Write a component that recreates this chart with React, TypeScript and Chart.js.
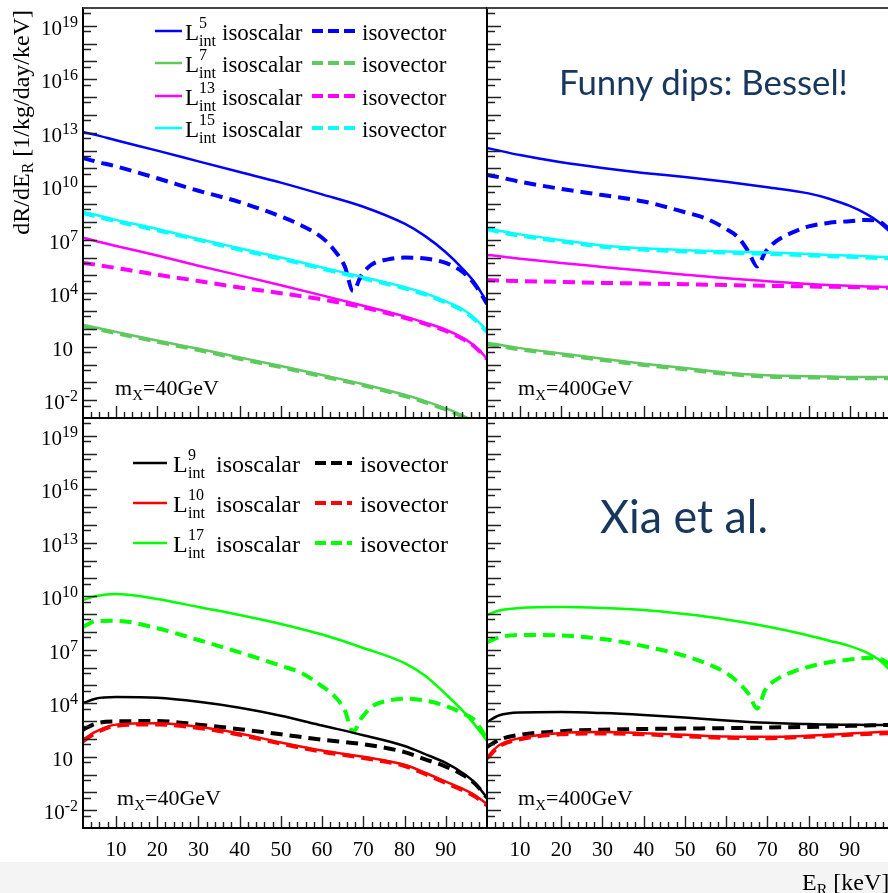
import React, { useEffect, useRef } from 'react';
import { Chart, registerables } from 'chart.js';

Chart.register(...registerables);

// ---------- energy grids (keV) ----------
const E = [2, 5, 10, 20, 30, 40, 50, 60, 70, 80, 85, 90, 94, 97, 100];
const E_DIP = [2, 5, 10, 20, 30, 40, 50, 55, 60, 63, 65.5, 67.5, 69.5, 72, 76, 80, 85, 90, 94, 97, 100];

// ---------- upper-left: m_X = 40 GeV ----------
const UL_L5_SCALAR = [1.1e13, 7.6e12, 3.8e12, 1.0e12, 2.5e11, 6.3e10, 1.6e10, 3.5e9, 7.1e8, 7.9e7, 1.6e7, 2.0e6, 2.5e5, 4.0e4, 3.2e3];
const UL_L5_VECTOR = [3.9e11, 2.5e11, 1.3e11, 2.8e10, 5.6e9, 1.3e9, 2.0e8, 6.3e7, 1.3e7, 2.5e6, 3.2e5, 1.3e4, 1.0e5, 4.0e5, 7.9e5, 1.0e6, 8.9e5, 5.0e5, 1.6e5, 3.2e4, 2.5e3];
const UL_L7_SCALAR = [166, 120, 68, 22, 7.6, 2.5, 0.83, 0.26, 0.079, 0.02, 8.9e-3, 3.5e-3, 1.4e-3, 5.0e-4, 3.2e-5];
const UL_L7_VECTOR = [141, 102, 58, 19, 6.5, 2.1, 0.71, 0.22, 0.068, 0.017, 7.6e-3, 3.0e-3, 1.2e-3, 4.3e-4, 2.7e-5];
const UL_L13_SCALAR = [1.3e7, 8.5e6, 4.5e6, 1.3e6, 3.5e5, 1.0e5, 2.8e4, 7.6e3, 2.0e3, 5.0e2, 2.2e2, 89, 32, 11, 2.2];
const UL_L13_VECTOR = [5.0e5, 4.0e5, 2.6e5, 1.1e5, 4.8e4, 2.1e4, 1.0e4, 4.5e3, 1.6e3, 4.2e2, 1.9e2, 76, 28, 10, 2.0];
const UL_L15_SCALAR = [3.6e8, 2.5e8, 1.3e8, 4.0e7, 1.1e7, 3.3e6, 1.0e6, 2.8e5, 7.9e4, 2.2e4, 1.0e4, 3.5e3, 1.3e3, 4.0e2, 79];
const UL_L15_VECTOR = [3.1e8, 2.1e8, 1.1e8, 3.4e7, 9.8e6, 2.8e6, 8.5e5, 2.4e5, 6.8e4, 1.9e4, 8.5e3, 3.0e3, 1.1e3, 3.4e2, 68];

// ---------- upper-right: m_X = 400 GeV ----------
const UR_L5_SCALAR = [1.4e12, 1.0e12, 5.6e11, 2.2e11, 1.05e11, 5.6e10, 3.3e10, 1.8e10, 8.9e9, 4.0e9, 2.0e9, 7.9e8, 2.8e8, 1.0e8, 2.5e7];
const UR_L5_VECTOR = [4.3e10, 3.2e10, 1.8e10, 7.1e9, 3.2e9, 1.4e9, 3.5e8, 1.6e8, 4.0e7, 1.3e7, 2.0e6, 3.2e5, 2.0e6, 7.9e6, 2.5e7, 5.6e7, 8.9e7, 1.1e8, 1.3e8, 1.1e8, 3.2e7];
const UR_L7_SCALAR = [16, 13, 8.3, 4.2, 2.1, 1.1, 0.63, 0.35, 0.25, 0.22, 0.21, 0.2, 0.2, 0.2, 0.2];
const UR_L7_VECTOR = [14, 11, 7.1, 3.6, 1.8, 0.95, 0.54, 0.3, 0.21, 0.19, 0.18, 0.17, 0.17, 0.17, 0.17];
const UR_L13_SCALAR = [1.4e6, 1.2e6, 8.5e5, 5.0e5, 3.0e5, 1.8e5, 1.1e5, 6.9e4, 4.7e4, 3.3e4, 2.9e4, 2.6e4, 2.4e4, 2.3e4, 2.2e4];
const UR_L13_VECTOR = [5.5e4, 5.2e4, 4.8e4, 4.3e4, 3.8e4, 3.5e4, 3.2e4, 2.9e4, 2.6e4, 2.4e4, 2.3e4, 2.2e4, 2.1e4, 2.0e4, 2.0e4];
const UR_L15_SCALAR = [4.6e7, 3.2e7, 2.0e7, 9.5e6, 4.8e6, 3.3e6, 2.6e6, 2.2e6, 1.9e6, 1.6e6, 1.4e6, 1.3e6, 1.2e6, 1.1e6, 1.05e6];
const UR_L15_VECTOR = [3.9e7, 2.7e7, 1.7e7, 8.1e6, 4.1e6, 2.8e6, 2.2e6, 1.9e6, 1.6e6, 1.35e6, 1.2e6, 1.1e6, 1.0e6, 9.5e5, 8.9e5];

// ---------- lower-left: m_X = 40 GeV ----------
const LL_L9_SCALAR = [1.0e4, 1.8e4, 2.2e4, 2.0e4, 1.2e4, 5.6e3, 2.0e3, 5.6e2, 1.6e2, 40, 14, 4.5, 1.26, 0.35, 0.05];
const LL_L9_VECTOR = [3.2e2, 7.1e2, 9.5e2, 1.0e3, 6.3e2, 3.5e2, 1.8e2, 89, 50, 18, 7.1, 2.8, 1.0, 0.32, 0.05];
const LL_L10_SCALAR = [87, 2.5e2, 6.3e2, 7.6e2, 4.8e2, 2.0e2, 63, 22, 10, 3.5, 1.26, 0.4, 0.16, 0.071, 0.022];
const LL_L10_VECTOR = [74, 2.1e2, 5.4e2, 6.5e2, 4.1e2, 1.7e2, 54, 19, 8.5, 3.0, 1.07, 0.34, 0.135, 0.06, 0.019];
const LL_L17_SCALAR = [6.2e9, 1.0e10, 1.35e10, 7.1e9, 2.5e9, 8.9e8, 2.8e8, 7.1e7, 1.26e7, 1.8e6, 3.5e5, 3.2e4, 4.0e3, 6.3e2, 79];
const LL_L17_VECTOR = [1.9e8, 4.0e8, 4.2e8, 1.6e8, 3.5e7, 7.1e6, 1.26e6, 5.0e5, 8.9e4, 2.5e4, 4.0e3, 2.5e2, 1.4e3, 6.3e3, 1.4e4, 1.8e4, 1.4e4, 7.1e3, 2.8e3, 1.1e3, 1.0e2];

// ---------- lower-right: m_X = 400 GeV ----------
const LR_L9_SCALAR = [8.9e2, 2.1e3, 3.0e3, 3.2e3, 2.8e3, 2.2e3, 1.6e3, 1.07e3, 7.9e2, 6.8e2, 6.3e2, 6.2e2, 6.0e2, 6.0e2, 5.9e2];
const LR_L9_VECTOR = [35, 89, 1.7e2, 2.7e2, 3.3e2, 3.6e2, 3.8e2, 4.0e2, 4.3e2, 4.7e2, 5.0e2, 5.4e2, 5.6e2, 5.9e2, 6.0e2];
const LR_L10_SCALAR = [9.5, 45, 1.1e2, 2.1e2, 2.4e2, 2.1e2, 1.7e2, 1.35e2, 1.3e2, 1.5e2, 1.7e2, 2.0e2, 2.2e2, 2.4e2, 2.5e2];
const LR_L10_VECTOR = [8.1, 38, 95, 1.8e2, 2.0e2, 1.8e2, 1.4e2, 1.15e2, 1.1e2, 1.3e2, 1.5e2, 1.7e2, 1.9e2, 2.0e2, 2.1e2];
const LR_L17_SCALAR = [8.9e8, 1.6e9, 2.2e9, 2.5e9, 2.2e9, 1.7e9, 1.0e9, 5.0e8, 2.0e8, 6.3e7, 3.2e7, 1.6e7, 7.1e6, 2.8e6, 6.3e5];
const LR_L17_VECTOR = [2.7e7, 5.0e7, 6.8e7, 6.3e7, 4.0e7, 1.6e7, 4.5e6, 1.8e6, 5.0e5, 1.4e5, 3.2e4, 5.0e3, 5.6e4, 2.0e5, 5.6e5, 1.1e6, 2.0e6, 2.8e6, 3.4e6, 3.2e6, 1.4e6];

// ---------- axes ----------
const X_MIN = 2;
const X_MAX = 100;
const Y_MIN = 1e-3;
const Y_MAX = 1e20;
const X_TICK_VALUES = [10, 20, 30, 40, 50, 60, 70, 80, 90];
const X_TICK_LABELS = ['10', '20', '30', '40', '50', '60', '70', '80', '90'];
const Y_LABEL_VALUES = [1e19, 1e16, 1e13, 1e10, 1e7, 1e4, 10, 1e-2];
const Y_LABEL_EXPONENTS = ['19', '16', '13', '10', '7', '4', '', '-2'];

// ---------- legends / labels ----------
const UPPER_ORDERS = ['5', '7', '13', '15'];
const LOWER_ORDERS = ['9', '10', '17'];
const MASS_LABELS = ['40GeV', '400GeV'];

const BLUE = '#0000ff';
const GREEN7 = '#5ec95e';
const MAGENTA = '#ff00ff';
const CYAN = '#00ffff';
const BLACK = '#000000';
const RED = '#ff0000';
const GREEN17 = '#00ff00';
const UPPER_COLORS = [BLUE, GREEN7, MAGENTA, CYAN];
const LOWER_COLORS = [BLACK, RED, GREEN17];
const NAVY = '#17375e';
const SERIF = "'Liberation Serif', 'DejaVu Serif', serif";

type Series = { e: number[]; v: number[]; color: string; dashed: boolean };

const UL_SERIES: Series[] = [
  { e: E, v: UL_L5_SCALAR, color: BLUE, dashed: false },
  { e: E_DIP, v: UL_L5_VECTOR, color: BLUE, dashed: true },
  { e: E, v: UL_L7_SCALAR, color: GREEN7, dashed: false },
  { e: E, v: UL_L7_VECTOR, color: GREEN7, dashed: true },
  { e: E, v: UL_L13_SCALAR, color: MAGENTA, dashed: false },
  { e: E, v: UL_L13_VECTOR, color: MAGENTA, dashed: true },
  { e: E, v: UL_L15_SCALAR, color: CYAN, dashed: false },
  { e: E, v: UL_L15_VECTOR, color: CYAN, dashed: true },
];
const UR_SERIES: Series[] = [
  { e: E, v: UR_L5_SCALAR, color: BLUE, dashed: false },
  { e: E_DIP, v: UR_L5_VECTOR, color: BLUE, dashed: true },
  { e: E, v: UR_L7_SCALAR, color: GREEN7, dashed: false },
  { e: E, v: UR_L7_VECTOR, color: GREEN7, dashed: true },
  { e: E, v: UR_L13_SCALAR, color: MAGENTA, dashed: false },
  { e: E, v: UR_L13_VECTOR, color: MAGENTA, dashed: true },
  { e: E, v: UR_L15_SCALAR, color: CYAN, dashed: false },
  { e: E, v: UR_L15_VECTOR, color: CYAN, dashed: true },
];
const LL_SERIES: Series[] = [
  { e: E, v: LL_L9_SCALAR, color: BLACK, dashed: false },
  { e: E, v: LL_L9_VECTOR, color: BLACK, dashed: true },
  { e: E, v: LL_L10_SCALAR, color: RED, dashed: false },
  { e: E, v: LL_L10_VECTOR, color: RED, dashed: true },
  { e: E, v: LL_L17_SCALAR, color: GREEN17, dashed: false },
  { e: E_DIP, v: LL_L17_VECTOR, color: GREEN17, dashed: true },
];
const LR_SERIES: Series[] = [
  { e: E, v: LR_L9_SCALAR, color: BLACK, dashed: false },
  { e: E, v: LR_L9_VECTOR, color: BLACK, dashed: true },
  { e: E, v: LR_L10_SCALAR, color: RED, dashed: false },
  { e: E, v: LR_L10_VECTOR, color: RED, dashed: true },
  { e: E, v: LR_L17_SCALAR, color: GREEN17, dashed: false },
  { e: E_DIP, v: LR_L17_VECTOR, color: GREEN17, dashed: true },
];

function toDatasets(series: Series[]) {
  return series.map((s) => ({
    data: s.e.map((x, i) => ({ x, y: s.v[i] })),
    borderColor: s.color,
    backgroundColor: s.color,
    borderWidth: s.dashed ? 4 : 2.5,
    borderDash: s.dashed ? [12, 7] : [],
    pointRadius: 0,
    cubicInterpolationMode: 'monotone' as const,
    fill: false,
    order: s.dashed ? 1 : 0,
    clip: 0,
  }));
}

// ROOT-style frame: inward ticks, axis lines and tick labels, drawn from the chart's scales
const rootFrame = {
  id: 'rootFrame',
  afterDatasetsDraw(chart: any, _args: any, opts: any) {
    const { ctx, chartArea: a } = chart;
    const xs = chart.scales.x;
    const ys = chart.scales.y;
    ctx.save();
    ctx.strokeStyle = '#222';
    ctx.lineWidth = 1.4;
    ctx.beginPath();
    for (let v = 4; v < X_MAX; v += 2) {
      const len = v % 10 === 0 ? 12 : 6;
      const px = Math.round(xs.getPixelForValue(v)) + 0.5;
      ctx.moveTo(px, a.bottom);
      ctx.lineTo(px, a.bottom - len);
    }
    for (let n = -3; n <= 19; n++) {
      const marks: [number, number][] = [[1, 14], [5, 8]];
      for (const [m, len] of marks) {
        const val = m * Math.pow(10, n);
        if (val <= Y_MIN * 1.01 || val >= Y_MAX * 0.99) continue;
        const py = Math.round(ys.getPixelForValue(val)) + 0.5;
        ctx.moveTo(a.left, py);
        ctx.lineTo(a.left + len, py);
      }
    }
    ctx.stroke();

    ctx.lineWidth = 2;
    ctx.strokeStyle = '#000';
    ctx.beginPath();
    ctx.moveTo(a.left, a.top - (opts.top ? 1 : 0));
    ctx.lineTo(a.left, a.bottom + 1);
    ctx.moveTo(a.left - 1, a.bottom);
    ctx.lineTo(a.right + 1, a.bottom);
    ctx.stroke();
    if (opts.top) {
      ctx.strokeStyle = '#444';
      ctx.beginPath();
      ctx.moveTo(a.left, a.top);
      ctx.lineTo(a.right, a.top);
      ctx.stroke();
    }

    ctx.fillStyle = '#000';
    ctx.textBaseline = 'alphabetic';
    if (opts.yLabels) {
      const R = a.left - 5;
      Y_LABEL_VALUES.forEach((val, i) => {
        const py = ys.getPixelForValue(val);
        const ex = Y_LABEL_EXPONENTS[i];
        ctx.font = `16px ${SERIF}`;
        const w2 = ex ? ctx.measureText(ex).width : 0;
        ctx.font = `21px ${SERIF}`;
        const w1 = ctx.measureText('10').width;
        const x0 = ex ? R - w2 - w1 : R - 5 - w1;
        ctx.textAlign = 'left';
        ctx.fillText('10', x0, py + 9);
        if (ex) {
          ctx.font = `16px ${SERIF}`;
          ctx.fillText(ex, x0 + w1, py + 1);
        }
      });
    }
    if (opts.xLabels) {
      ctx.font = `21px ${SERIF}`;
      ctx.textAlign = 'center';
      X_TICK_VALUES.forEach((v, i) => {
        ctx.fillText(X_TICK_LABELS[i], xs.getPixelForValue(v), a.bottom + 28);
      });
    }
    ctx.restore();
  },
};

type PanelProps = {
  left: number;
  top: number;
  width: number;
  height: number;
  pad: { left: number; top: number; right: number; bottom: number };
  series: Series[];
  frame: { top: boolean; yLabels: boolean; xLabels: boolean };
};

function Panel({ left, top, width, height, pad, series, frame }: PanelProps) {
  const ref = useRef<HTMLCanvasElement>(null);
  useEffect(() => {
    const chart = new Chart(ref.current as HTMLCanvasElement, {
      type: 'line',
      data: { datasets: toDatasets(series) as any },
      options: {
        animation: false,
        responsive: false,
        devicePixelRatio: 1,
        events: [],
        layout: { padding: pad, autoPadding: false },
        scales: {
          x: { type: 'linear', min: X_MIN, max: X_MAX, display: false },
          y: { type: 'logarithmic', min: Y_MIN, max: Y_MAX, display: false },
        },
        plugins: {
          legend: { display: false },
          tooltip: { enabled: false },
          rootFrame: frame,
        } as any,
      },
      plugins: [rootFrame],
    });
    return () => chart.destroy();
  }, []);
  return (
    <canvas
      ref={ref}
      width={width}
      height={height}
      style={{ position: 'absolute', left, top, width, height }}
    />
  );
}

function LegendRow({ cy, order, color, size, xs }: { cy: number; order: string; color: string; size: number; xs: number[] }) {
  const small = Math.round(size * 0.68);
  const [s1, s2, lx, ix, isx, d1, d2, ivx] = xs;
  return (
    <g>
      <line x1={s1} x2={s2} y1={cy} y2={cy} stroke={color} strokeWidth={2.5} />
      <text x={lx} y={cy + 9} fontSize={size}>L</text>
      <text x={ix} y={cy - 3} fontSize={small}>{order}</text>
      <text x={ix} y={cy + 15} fontSize={small}>int</text>
      <text x={isx} y={cy + 9} fontSize={size}>isoscalar</text>
      <line x1={d1} x2={d2} y1={cy} y2={cy} stroke={color} strokeWidth={4} strokeDasharray="11 5" />
      <text x={ivx} y={cy + 9} fontSize={size}>isovector</text>
    </g>
  );
}

function MassLabel({ x, y, text }: { x: number; y: number; text: string }) {
  return (
    <text x={x} y={y} fontSize={22}>
      m<tspan fontSize={15} dy={5}>X</tspan>
      <tspan dy={-5}>={text}</tspan>
    </text>
  );
}

export default function App() {
  const upperRows = [31, 63, 96, 128];
  const lowerRows = [463, 503, 543];
  return (
    <div style={{ position: 'fixed', left: 0, top: 0, width: 888, height: 893, overflow: 'hidden', background: '#fff' }}>
      <Panel left={0} top={0} width={488} height={420} pad={{ left: 83, top: 8, right: 1, bottom: 2 }} series={UL_SERIES} frame={{ top: true, yLabels: true, xLabels: false }} />
      <Panel left={485} top={0} width={408} height={420} pad={{ left: 2, top: 8, right: 2, bottom: 2 }} series={UR_SERIES} frame={{ top: true, yLabels: false, xLabels: false }} />
      <Panel left={0} top={410} width={488} height={453} pad={{ left: 83, top: 8, right: 1, bottom: 35 }} series={LL_SERIES} frame={{ top: false, yLabels: true, xLabels: true }} />
      <Panel left={485} top={410} width={408} height={453} pad={{ left: 2, top: 8, right: 2, bottom: 35 }} series={LR_SERIES} frame={{ top: false, yLabels: false, xLabels: true }} />
      <svg width={888} height={893} style={{ position: 'absolute', left: 0, top: 0, pointerEvents: 'none' }} fontFamily={SERIF}>
        <rect x={0} y={862} width={888} height={31} fill="#f4f4f4" />
        <text transform="translate(29,10) rotate(-90)" textAnchor="end" fontSize={24}>
          dR/dE<tspan fontSize={16} dy={4}>R</tspan>
          <tspan dy={-4}> [1/kg/day/keV]</tspan>
        </text>
        {UPPER_ORDERS.map((o, i) => (
          <LegendRow key={o} cy={upperRows[i]} order={o} color={UPPER_COLORS[i]} size={23} xs={[155, 182, 185, 199, 222, 312, 355, 362]} />
        ))}
        {LOWER_ORDERS.map((o, i) => (
          <LegendRow key={o} cy={lowerRows[i]} order={o} color={LOWER_COLORS[i]} size={24} xs={[133, 167, 173, 188, 216, 315, 352, 360]} />
        ))}
        <MassLabel x={115} y={395} text={MASS_LABELS[0]} />
        <MassLabel x={518} y={395} text={MASS_LABELS[1]} />
        <MassLabel x={117} y={805} text={MASS_LABELS[0]} />
        <MassLabel x={518} y={805} text={MASS_LABELS[1]} />
        <text x={559} y={95} fontFamily="Lato, 'Open Sans', sans-serif" fontSize={35} fill={NAVY} textLength={289} lengthAdjust="spacingAndGlyphs">
          Funny dips: Bessel!
        </text>
        <text x={600} y={533} fontFamily="Lato, 'Open Sans', sans-serif" fontSize={46} fill={NAVY} textLength={168} lengthAdjust="spacingAndGlyphs">
          Xia et al.
        </text>
        <text x={802} y={890} fontSize={24}>
          E<tspan fontSize={16} dy={5}>R</tspan>
          <tspan dy={-5}> [keV]</tspan>
        </text>
      </svg>
    </div>
  );
}
